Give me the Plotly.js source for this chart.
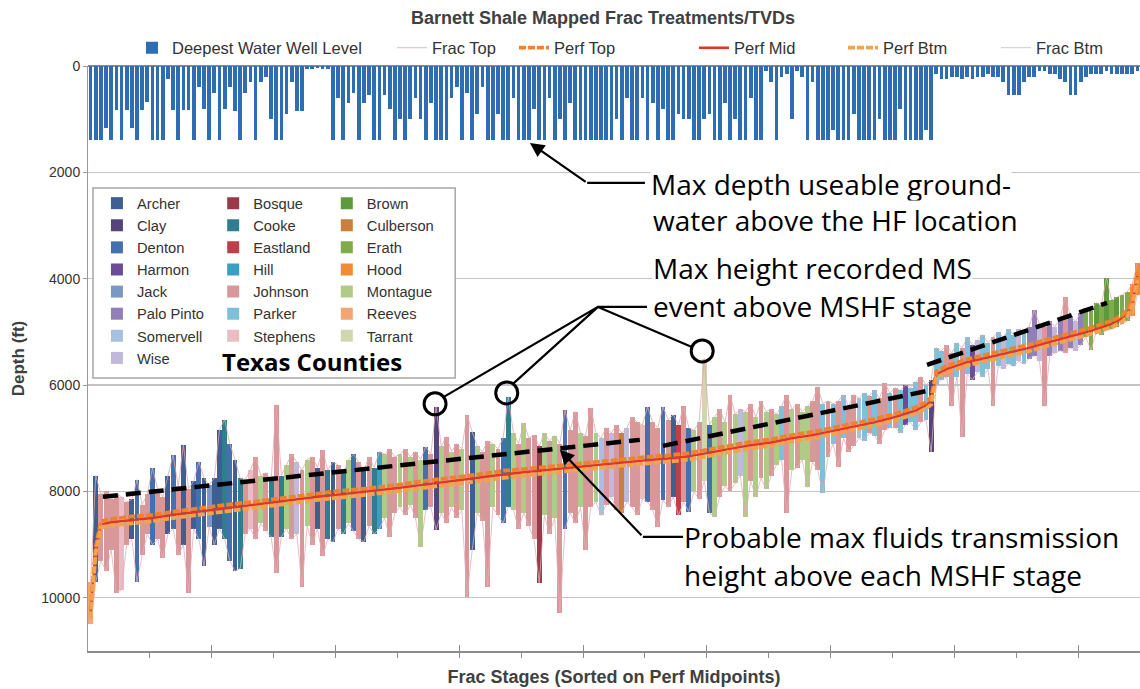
<!DOCTYPE html>
<html><head><meta charset="utf-8">
<script src="https://cdn.plot.ly/plotly-3.0.1.min.js"></script>
<style>html,body{margin:0;padding:0;background:#fff}#chart{width:1140px;height:689px}</style>
</head><body><div id="chart"></div>
<script>
// ---------------- DATA ----------------
const counties = ["Archer","Clay","Denton","Harmon","Jack","Palo Pinto","Somervell","Wise",
  "Bosque","Cooke","Eastland","Hill","Johnson","Parker","Stephens",
  "Brown","Culberson","Erath","Hood","Montague","Reeves","Tarrant"];
const countyCodes = ["Ar","Cl","De","Ha","Ja","PP","So","Wi","Bo","Co","Ea","Hi","Jo","Pa","St","Br","Cu","Er","Ho","Mo","Re","Ta"];

// frac top depth (ft) for each frac stage, sorted on perf midpoint
const fracTop = [
 9700,7700,8050,8000,8150,8050,8100,8200,8150,7780,8250,8050,
 7560,7950,8100,7700,7310,7900,7120,7950,7800,7440,7750,7880,
 7750,6840,6650,7100,7400,7750,7780,7600,7350,7700,7650,7800,
 6370,7700,7500,7300,7450,7600,7400,7350,7550,7220,7600,7450,
 7500,7650,7400,7300,7450,7600,7350,7550,7250,7300,7200,7350,
 7300,7200,7350,7250,7400,7160,7300,6410,7150,6970,7250,7100,
 7200,6560,6880,7150,7250,7050,7100,7200,7000,6220,6900,7100,
 6710,7000,6940,7150,6900,7050,6950,7100,6470,6850,6500,6900,
 6950,6430,6900,7000,6800,6900,6750,6900,6800,6600,6700,6750,
 6410,6700,6800,6410,6650,6560,6750,6400,6800,6850,6700,5500,
 6750,6600,6450,6700,6180,6550,6450,6500,6350,6600,6300,6500,
 6450,6550,6400,6180,6450,6350,6500,6400,6300,6030,6350,6300,
 6350,6300,6180,6400,6180,6250,6150,6200,6100,6250,5960,6150,
 6050,6100,6000,6050,5950,5840,6000,5900,5300,5350,5250,5400,
 5200,5300,5100,5250,5150,5050,5200,5100,5000,5100,4950,5050,
 4950,5000,4900,4590,4850,4900,4800,4900,4750,4340,4700,4800,
 4650,4550,4600,4450,4500,3990,4400,4350,4300,4250,4100,3700];
// frac bottom depth (ft)
const fracBtm = [
 10500,9700,9300,9500,9100,9900,9850,9000,8900,9700,9200,8800,
 9000,8900,9250,8800,8700,9200,9000,9900,8700,8900,9400,8660,
 9000,8700,8900,9300,9500,9450,8800,8700,8900,8600,8750,8850,
 9530,8850,8700,8900,8800,9790,8650,9000,8700,9220,8900,8950,
 8700,8800,8600,8750,8900,8950,8650,8800,8700,8500,8850,8400,
 8300,8450,8250,8500,9040,8350,8300,8720,8400,8600,8300,8500,
 8350,9980,9100,8400,8550,9790,8300,8450,8600,8290,8350,8700,
 8400,8650,8900,9720,8450,8800,8500,10280,8700,8400,8600,8300,
 9100,8300,8200,8450,8250,8100,8350,8400,8200,8300,8450,8150,
 8200,8350,8660,8160,8300,8100,8450,8200,8380,8000,8150,7800,
 8400,8480,8100,7900,8000,7850,7700,8480,7800,8100,7750,7950,
 7700,7500,7400,8400,7600,7550,7400,7920,7450,7600,8030,7350,
 7100,7540,7000,7250,7150,7000,7050,6900,6950,7100,6850,6800,
 6800,6900,6750,6700,6850,6700,6650,7260,6000,5900,5850,6400,
 5850,6970,5800,5900,5750,5850,5700,6400,5650,5700,5600,5650,
 5550,5600,5500,5450,5550,6400,5450,5400,5350,5400,5300,5350,
 5250,5100,5340,5000,5050,4950,4950,4900,4850,4800,4700,4300];
// county of each frac stage
const stageCounty = [
 "Re","Ar","Jo","Jo","Jo","Jo","St","Jo","Ar","De","Jo","Jo",
 "De","Jo","Jo","Ar","De","Jo","Ar","Jo","Ar","De","Ar","Ja",
 "Ar","Ar","Co","De","Ar","Co","Jo","St","Jo","Mo","Jo","Co",
 "Jo","Co","Mo","Jo","Wi","Jo","Mo","Jo","Ar","Jo","Co","Ar",
 "Jo","Co","Mo","De","Jo","Ar","Jo","Co","Hi","Mo","Jo","Jo",
 "Mo","Jo","Mo","Jo","Mo","De","Jo","Cl","Mo","Jo","Mo","Jo",
 "Mo","Jo","Ar","Mo","Jo","Jo","Mo","Jo","De","Co","Mo","Jo",
 "Mo","Jo","Jo","Bo","Mo","Jo","Mo","Jo","De","Jo","Jo","Mo",
 "Jo","Jo","Mo","So","Jo","Wi","Jo","Cu","Wi","Jo","Jo","St",
 "De","Jo","Jo","De","Jo","Ar","Ea","Jo","De","Mo","Jo","Ta",
 "De","Mo","Jo","Mo","Jo","Mo","Wi","Mo","Jo","Mo","Jo","Mo",
 "Jo","Mo","Pa","Jo","Mo","Jo","Mo","Mo","Jo","Jo","Pa","Jo",
 "Pa","Jo","Pa","Jo","Jo","So","Pa","Jo","Pa","Jo","Jo","Pa",
 "Jo","Pa","Ha","Pa","Pa","Jo","Pa","Cl","Pa","Pa","Jo","Jo",
 "Pa","Jo","Pa","Ha","Wi","Pa","Pa","Jo","Pa","Wi","Pa","Pa",
 "Wi","Pa","PP","PP","Wi","Jo","PP","Wi","PP","Jo","PP","Wi",
 "PP","Er","Er","Br","Er","Br","Er","Br","Er","Er","Ho","Ho"];
// deepest water well level above each stage (ft)
const wellDepth = [
 1400,1400,1400,1160,1400,820,1400,820,1160,1400,820,680,
 1400,1400,1400,250,820,1400,820,820,1400,400,800,1400,
 500,1400,800,400,850,1400,500,300,1400,300,200,1000,
 1400,1400,900,300,850,850,50,50,30,50,60,1400,
 600,1400,700,500,1400,700,550,1400,1400,550,800,1400,
 1000,1400,1000,600,1000,1400,700,1400,1400,1400,600,400,
 1400,500,1400,900,400,1400,1400,900,1400,1400,600,1400,
 1400,1400,800,1400,1400,600,1400,1000,1400,700,1400,1400,
 1400,1400,1400,1400,1400,1400,1000,1400,600,1400,1400,600,
 1400,700,1400,800,1400,1400,900,1000,1000,1400,1400,1000,
 900,1400,1400,700,1400,1000,1400,1400,600,1400,1400,100,
 300,1400,200,150,1000,100,200,1400,300,1400,1400,1400,
 1200,1400,1400,1400,900,1400,1400,1400,1400,1000,1400,1400,
 1400,800,1400,1400,1400,1400,1200,1400,150,250,250,200,
 200,250,200,250,200,200,150,200,200,300,550,550,
 550,300,200,200,100,100,150,150,250,300,550,550,
 300,200,150,150,150,100,150,150,150,150,150,100];
// perforation interval, read at these stages
const perfStage = [1,2,3,5,9,13,17,21,25,29,33,37,41,45,49,53,57,61,65,69,73,77,81,85,89,93,97,101,105,109,113,117,121,125,129,133,137,141,145,149,153,157,161,163,164,165,167,171,175,179,183,187,191,195,199,201,202,203,204];
const perfTop = [10230,9040,8560,8520,8470,8440,8380,8330,8270,8230,8190,8140,8090,8040,7990,7960,7920,7870,7810,7770,7720,7670,7610,7580,7540,7500,7470,7420,7380,7350,7320,7280,7210,7140,7070,7020,6940,6880,6800,6730,6640,6540,6420,6320,6230,5740,5640,5510,5420,5330,5240,5130,5030,4920,4790,4690,4590,4390,3880];
const perfMid = [10300,9100,8620,8580,8540,8500,8440,8390,8340,8290,8250,8200,8150,8100,8060,8020,7975,7930,7880,7830,7780,7725,7680,7640,7600,7560,7530,7480,7440,7410,7380,7340,7270,7200,7130,7080,7000,6940,6860,6790,6700,6600,6480,6380,6300,5800,5700,5570,5480,5390,5300,5190,5090,4980,4850,4750,4650,4450,3950];
const perfBtm = [10380,9160,8680,8640,8600,8560,8500,8450,8400,8350,8310,8260,8210,8160,8120,8080,8030,7990,7940,7890,7840,7790,7740,7700,7660,7620,7590,7540,7500,7470,7440,7400,7330,7260,7190,7140,7060,7000,6920,6850,6760,6660,6540,6440,6370,5860,5760,5630,5540,5450,5360,5250,5150,5040,4910,4810,4710,4510,4020];
// microseismic events: max height recorded above MSHF stage
const msEventStage = [67.8, 81.7, 119.6];
const msEventDepth = [6353, 6147, 5357];
// probable max fluid transmission height (dashed envelope), three segments
const envStage = [3.4, 107.5, null, 112.0, 164.2, null, 163.2, 198.1];
const envDepth = [8101, 7030, null, 7143, 6090, null, 5620, 4455];
const depthTicks = [0, 2000, 4000, 6000, 8000, 10000];

// ---------------- STYLE ----------------
const countyColor = {Ar:'#3d5f92',Cl:'#554478',De:'#4471ae',Ha:'#6c4b97',Ja:'#7b97c5',PP:'#9180b8',So:'#a8c0df',Wi:'#c1b9da',
  Bo:'#9a3a48',Co:'#2f7d8e',Ea:'#bd3f49',Hi:'#3a9fc2',Jo:'#d8989a',Pa:'#7ec0da',St:'#ebbcc3',
  Br:'#5c9a3d',Cu:'#c9803e',Er:'#80ab4c',Ho:'#f08c34',Mo:'#afcb88',Re:'#f2a575',Ta:'#d2d6ae'};
const narrow = '"Liberation Sans Narrow", "Arial Narrow", "Liberation Sans", Arial, sans-serif';
const calib = '"Open Sans", Lato, sans-serif';

const stages = fracTop.map((_, i) => i + 1);
const traces = [];
traces.push({type:'bar', name:'Deepest Water Well Level', x:stages, y:wellDepth, base:0, width:0.72,
  marker:{color:'#2e6cb4', line:{width:0}}, legend:'legend', hoverinfo:'skip'});

counties.forEach((name, ci) => {
  const code = countyCodes[ci];
  const xs = [], bs = [], ls = [];
  stageCounty.forEach((c, i) => { if (c === code) { xs.push(stages[i]); bs.push(fracTop[i]); ls.push(fracBtm[i] - fracTop[i]); } });
  traces.push({type:'bar', name:name, x:xs, y:ls, base:bs, width:0.95,
    marker:{color:countyColor[code], line:{width:0}},
    legend: ci < 8 ? 'legend2' : (ci < 15 ? 'legend3' : 'legend4'), hoverinfo:'skip'});
});

traces.push({type:'scatter', mode:'lines', name:'Frac Top', x:stages, y:fracTop,
  line:{color:'#e2a6ab', width:1}, opacity:0.8, legend:'legend5', hoverinfo:'skip'});
traces.push({type:'scatter', mode:'lines', name:'Frac Btm', x:stages, y:fracBtm,
  line:{color:'#e3adb6', width:1}, opacity:0.8, legend:'legend9', hoverinfo:'skip'});
traces.push({type:'scatter', mode:'lines', name:'Perf Mid', x:perfStage, y:perfMid,
  line:{color:'#e6341e', width:2.4}, legend:'legend7', hoverinfo:'skip'});
traces.push({type:'scatter', mode:'lines', name:'Perf Top', x:perfStage, y:perfTop,
  line:{color:'#ef822e', width:3.8, dash:'7px,2px'}, legend:'legend6', hoverinfo:'skip'});
traces.push({type:'scatter', mode:'lines', name:'Perf Btm', x:perfStage, y:perfBtm,
  line:{color:'#f3a24e', width:3.8, dash:'7px,2px'}, legend:'legend8', hoverinfo:'skip'});
traces.push({type:'scatter', mode:'lines', name:'Probable max fluids transmission height', x:envStage, y:envDepth,
  connectgaps:false, line:{color:'#000', width:4.5, dash:'15px,8px'}, showlegend:false, hoverinfo:'skip'});
traces.push({type:'scatter', mode:'markers', name:'Max height recorded MS event', x:msEventStage, y:msEventDepth,
  marker:{symbol:'circle-open', size:22, color:'#000', line:{width:3, color:'#000'}}, showlegend:false, hoverinfo:'skip'});

const txt = (x, y, t) => ({x:x, y:y, xref:'x', yref:'y', text:t, showarrow:false, xanchor:'left', yanchor:'middle',
  font:{family:calib, size:28, color:'#000'}, bgcolor:'#fff', borderpad:0});
const arrow = (x, y, ax, ay) => ({x:x, y:y, ax:ax, ay:ay, xref:'x', yref:'y', axref:'x', ayref:'y', text:'',
  showarrow:true, arrowhead:2, arrowsize:1.3, arrowwidth:2.2, arrowcolor:'#000'});

const legendCol = (x) => ({orientation:'v', x:x, y:0.793, xanchor:'left', yanchor:'top', bgcolor:'rgba(0,0,0,0)',
  font:{family:narrow, size:14.7, color:'#333'}, tracegroupgap:0, itemclick:false});
const topLeg = (x) => ({orientation:'h', x:x, xanchor:'left', y:1.0308, yanchor:'middle', bgcolor:'rgba(0,0,0,0)',
  font:{family:narrow, size:16.5, color:'#333'}, itemclick:false});

const layout = {
  width:1140, height:689,
  margin:{l:88, r:0, t:66, b:38},
  paper_bgcolor:'#fff', plot_bgcolor:'#fff',
  barmode:'overlay', bargap:0,
  font:{family:narrow, color:'#333'},
  showlegend:true,
  title:{text:'Barnett Shale Mapped Frac Treatments/TVDs', x:0.529, xanchor:'center', y:0.974, yanchor:'middle',
    font:{family:narrow, size:18, color:'#404040', weight:'bold'}},
  xaxis:{range:[0.5, 204.5], showticklabels:false, ticks:'inside', tick0:0.5, dtick:24, ticklen:6, tickcolor:'#8c8c8c',
    showline:true, linecolor:'#8c8c8c', linewidth:1.5, showgrid:false, zeroline:false,
    minor:{ticks:'outside', tick0:0.5, dtick:12, ticklen:5, tickcolor:'#8c8c8c', showgrid:false},
    title:{text:'Frac Stages (Sorted on Perf Midpoints)', font:{family:narrow, size:18, color:'#404040', weight:'bold'}, standoff:19}},
  yaxis:{range:[11000, 0], tickvals:depthTicks, tickformat:'d', ticks:'outside', ticklen:4, tickcolor:'#999',
    showline:true, linecolor:'#999', linewidth:1, showgrid:true, gridcolor:'#c4c4c4', gridwidth:1.2,
    zeroline:true, zerolinecolor:'#8c8c8c', zerolinewidth:2, tickfont:{family:narrow, size:14, color:'#333'},
    title:{text:'Depth (ft)', font:{family:narrow, size:17, color:'#404040', weight:'bold'}, standoff:12}},
  legend:topLeg(0.0418),
  legend5:topLeg(0.2890),
  legend6:topLeg(0.4049),
  legend7:topLeg(0.5760),
  legend8:topLeg(0.7177),
  legend9:topLeg(0.8631),
  legend2:legendCol(0.0085),
  legend3:legendCol(0.119),
  legend4:legendCol(0.227),
  shapes:[
    {type:'rect', xref:'x', yref:'y', x0:1.47, x1:71.7, y0:2293, y1:5865, line:{color:'#a6a6a6', width:1.5}, fillcolor:'#fff', layer:'between'},
    {type:'path', xref:'x', yref:'y', path:'M 108.5,2199 L 97.3,2199', line:{color:'#000', width:2.2}},
    {type:'path', xref:'x', yref:'y', path:'M 108.9,4530 L 99.4,4530 L 69.5,6222 M 99.4,4530 L 82.9,5977 M 99.4,4530 L 117.6,5282', line:{color:'#000', width:2.2}},
    {type:'path', xref:'x', yref:'y', path:'M 115.9,8853 L 108.1,8853', line:{color:'#000', width:2.2}}
  ],
  annotations:[
    txt(109.5, 2218, 'Max depth useable ground-'),
    txt(109.9, 2895, 'water above the HF location'),
    txt(109.9, 3797, 'Max height recorded MS'),
    txt(109.9, 4511, 'event above MSHF stage'),
    txt(115.9, 8853, 'Probable max fluids transmission'),
    txt(115.9, 9568, 'height above each MSHF stage'),
    arrow(86.2, 1447, 97.3, 2199),
    arrow(92.0, 7218, 108.1, 8853),
    {x:0.2129, y:0.4957, xref:'paper', yref:'paper', text:'Texas Counties', showarrow:false, xanchor:'center', yanchor:'middle',
      font:{family:calib, size:24, color:'#000', weight:'bold'}}
  ]
};
Plotly.newPlot('chart', traces, layout, {displayModeBar:false, staticPlot:true});
</script></body></html>
